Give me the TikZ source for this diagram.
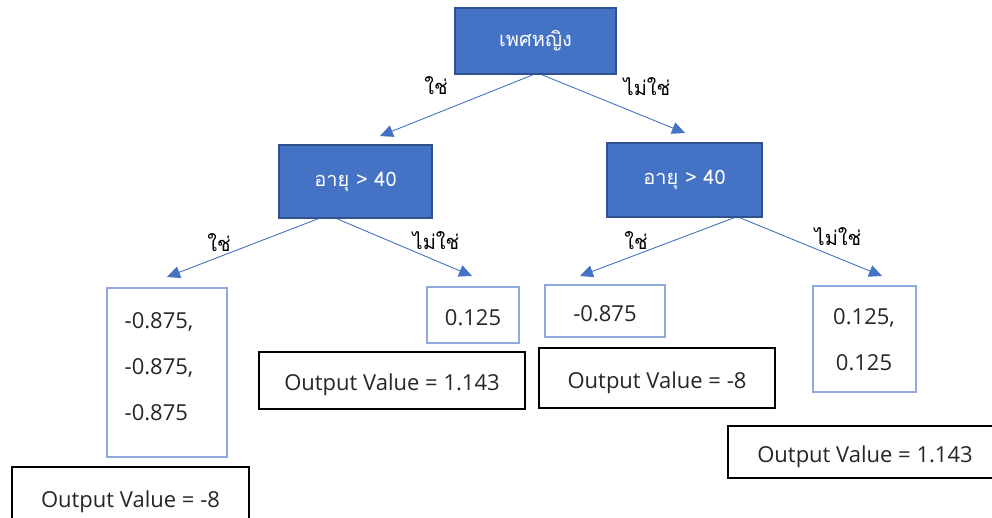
\documentclass[tikz,border=0pt]{standalone}
\usepackage{fontspec}
\setmainfont[Script=Thai]{Loma}
\newfontfamily\numfont{Open Sans}
\usetikzlibrary{arrows.meta}
\definecolor{nodeblue}{HTML}{4472C4}
\definecolor{nodeedge}{HTML}{2F528F}
\definecolor{leafedge}{HTML}{8FAADC}
\definecolor{inktext}{HTML}{262626}
\begin{document}
\begin{tikzpicture}[x=1pt,y=-1pt,
  split/.style={draw=nodeedge, fill=nodeblue, line width=1.6pt, text=white,
    inner sep=0pt, font=\fontsize{20}{24}\selectfont},
  leaf/.style={draw=leafedge, line width=1.3pt, inner sep=0pt},
  leaftext/.style={inner sep=0pt, text=inktext, font=\numfont\fontsize{22}{46}\selectfont},
  onevalue/.style={leaf, leaftext, text height=20pt, text depth=0pt},
  outbox/.style={draw=black, line width=1.4pt, inner sep=0pt, text=inktext,
    text height=20pt, text depth=0pt, font=\numfont\fontsize{22}{26}\selectfont},
  edge/.style={draw=nodeblue, line width=0.9pt, -{Triangle[length=13pt,width=12pt]}},
  lbl/.style={inner sep=0pt, font=\fontsize{20}{24}\selectfont}]
\clip (0,0) rectangle (992,517);

% splitting nodes
\node[split, minimum width=161pt, minimum height=66pt] (root) at (535.5,41) {เพศหญิง};
\node[split, minimum width=153pt, minimum height=73pt] (m1) at (355.5,181.5) {อายุ > 40};
\node[split, minimum width=155pt, minimum height=74pt] (m2) at (684.5,180) {อายุ > 40};

% leaves with residuals
\node[leaf, minimum width=120pt, minimum height=169pt] (L1) at (167,372.5) {};
\node[leaftext, align=left] (L1t) at (159,367) {-0.875,\\-0.875,\\-0.875};
\node[onevalue, minimum width=92pt, minimum height=56pt] (L2) at (473,315) {0.125};
\node[onevalue, minimum width=120pt, minimum height=52pt] (L3) at (605,311) {-0.875};
\node[leaf, minimum width=103pt, minimum height=106pt] (L4) at (864.5,339) {};
\node[leaftext, align=center] (L4t) at (864,340) {0.125,\\0.125};

% output values
\node[outbox, minimum width=237pt, minimum height=60pt] (O1) at (130.5,497) {Output Value = -8};
\node[outbox, minimum width=266pt, minimum height=57pt] (O2) at (392,380.5) {Output Value = 1.143};
\node[outbox, minimum width=236pt, minimum height=60pt] (O3) at (657,378) {Output Value = -8};
\node[outbox, minimum width=274pt, minimum height=52pt] (O4) at (865,452) {Output Value = 1.143};

% arrow tips
\coordinate (tm1) at (380,136);
\coordinate (tm2) at (685,133);
\coordinate (tL1) at (167,277);
\coordinate (tL2) at (472,276);
\coordinate (tL3) at (580,276);
\coordinate (tL4) at (882,276);

% branches
\draw[edge] ([xshift=-2.5pt]root.south) -- (tm1);
\draw[edge] ([xshift=6.5pt]root.south) -- (tm2);
\draw[edge] ([xshift=-37.5pt]m1.south) -- (tL1);
\draw[edge] ([xshift=-18.5pt]m1.south) -- (tL2);
\draw[edge] ([xshift=49.5pt]m2.south) -- (tL3);
\draw[edge] ([xshift=55.5pt]m2.south) -- (tL4);

% branch labels
\node[lbl] (y0) at (436,86) {ใช่};
\node[lbl] (n0) at (647,87) {ไม่ใช่};
\node[lbl] (y1) at (219,243) {ใช่};
\node[lbl] (n1) at (436,241) {ไม่ใช่};
\node[lbl] (y2) at (636,241) {ใช่};
\node[lbl] (n2) at (838,237) {ไม่ใช่};
\end{tikzpicture}
\end{document}
